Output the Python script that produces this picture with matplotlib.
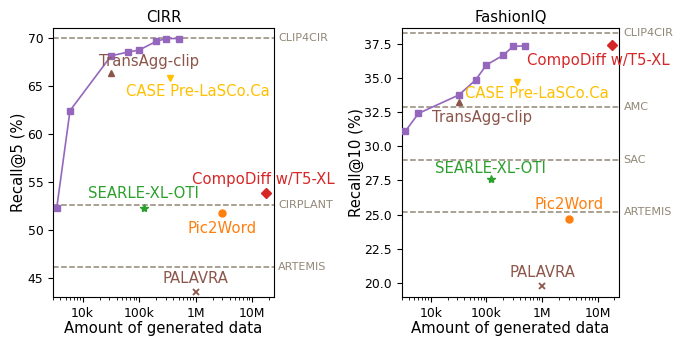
import matplotlib
matplotlib.use("Agg")
import matplotlib.pyplot as plt

# ---------------- data ----------------
gen_amount = [3.5e3, 6e3, 32e3, 64e3, 100e3, 200e3, 300e3, 500e3]
cirr_ours = [52.3, 62.4, 68.1, 68.5, 68.7, 69.6, 69.9, 69.9]
fiq_ours = [31.1, 32.4, 33.75, 34.85, 35.95, 36.65, 37.3, 37.35]

methods = ["TransAgg-clip", "CASE Pre-LaSCo.Ca", "CompoDiff w/T5-XL",
           "SEARLE-XL-OTI", "Pic2Word", "PALAVRA"]
method_amount = [32e3, 360e3, 18e6, 120e3, 3e6, 1e6]
cirr_methods = [66.3, 65.8, 53.8, 52.3, 51.7, 43.5]
fiq_methods = [33.2, 34.7, 37.4, 27.6, 24.7, 19.75]
method_markers = ["^", "v", "D", "*", "o", "x"]
method_colors = ["#8c564b", "#ffc000", "#d62728", "#2ca02c", "#ff7f0e", "#8c564b"]

cirr_ref_names = ["CLIP4CIR", "CIRPLANT", "ARTEMIS"]
cirr_ref_vals = [70.0, 52.55, 46.1]
fiq_ref_names = ["CLIP4CIR", "AMC", "SAC", "ARTEMIS"]
fiq_ref_vals = [38.3, 32.9, 29.0, 25.2]

xticks = [1e4, 1e5, 1e6, 1e7]
xticklabels = ["10k", "100k", "1M", "10M"]

# label offsets (points): (dx, dy) of text baseline-center relative to marker
cirr_offsets = [(27, 4.8), (20, -13.2), (-2, 7), (0, 6.8), (0, -14), (0, 6.8)]
fiq_offsets = [(17, -13.7), (14, -11.3), (-10, -14.4), (0, 4.5), (0, 7), (0, 6.8)]

REF_COLOR = "#918776"
FS = 10.7

fig = plt.figure(figsize=(6.83, 3.39), dpi=100)
ax1 = fig.add_axes([53 / 683, 1 - 297 / 339, 221 / 683, 269 / 339])
ax2 = fig.add_axes([401.7 / 683, 1 - 297 / 339, 217.6 / 683, 269 / 339])


def draw(ax, ours, mvals, ref_names, ref_vals, offsets, title, ylabel, ylim, ylpad):
    ax.set_xscale("log")
    ax.set_xlim(3.0e3, 2.45e7)
    ax.set_ylim(*ylim)
    for name, v in zip(ref_names, ref_vals):
        ax.axhline(v, color=REF_COLOR, ls="--", lw=1.1, zorder=1)
        ax.annotate(name, xy=(1, v), xycoords=("axes fraction", "data"),
                    xytext=(3, 0), textcoords="offset points",
                    ha="left", va="center", fontsize=8.0, color=REF_COLOR,
                    annotation_clip=False)
    ax.plot(gen_amount, ours, color="#9467bd", marker="s", markersize=4.5,
            lw=1.2, zorder=3)
    for name, xv, yv, mk, c, off in zip(methods, method_amount, mvals,
                                        method_markers, method_colors, offsets):
        ms = 5.5 if mk == "D" else (6 if mk == "*" else 5)
        ax.plot([xv], [yv], marker=mk, color=c, markersize=ms, ls="none",
                markeredgewidth=1.3 if mk == "x" else 1.0, zorder=4)
        ax.annotate(name, xy=(xv, yv), xytext=off, textcoords="offset points",
                    ha="center", va="baseline", fontsize=FS, color=c,
                    annotation_clip=False, zorder=5)
    ax.set_xticks(xticks)
    ax.set_xticklabels(xticklabels)
    ax.tick_params(labelsize=8.9)
    ax.set_title(title, fontsize=FS, pad=4)
    ax.set_ylabel(ylabel, fontsize=FS, labelpad=ylpad)
    ax.set_xlabel("Amount of generated data", fontsize=FS, labelpad=1)


draw(ax1, cirr_ours, cirr_methods, cirr_ref_names, cirr_ref_vals, cirr_offsets,
     "CIRR", "Recall@5 (%)", (43.0, 71.0), 1.0)
draw(ax2, fiq_ours, fiq_methods, fiq_ref_names, fiq_ref_vals, fiq_offsets,
     "FashionIQ", "Recall@10 (%)", (18.97, 38.65), 0.5)
ax2.set_yticks([20.0, 22.5, 25.0, 27.5, 30.0, 32.5, 35.0, 37.5])

fig.savefig("out.png", dpi=100)
